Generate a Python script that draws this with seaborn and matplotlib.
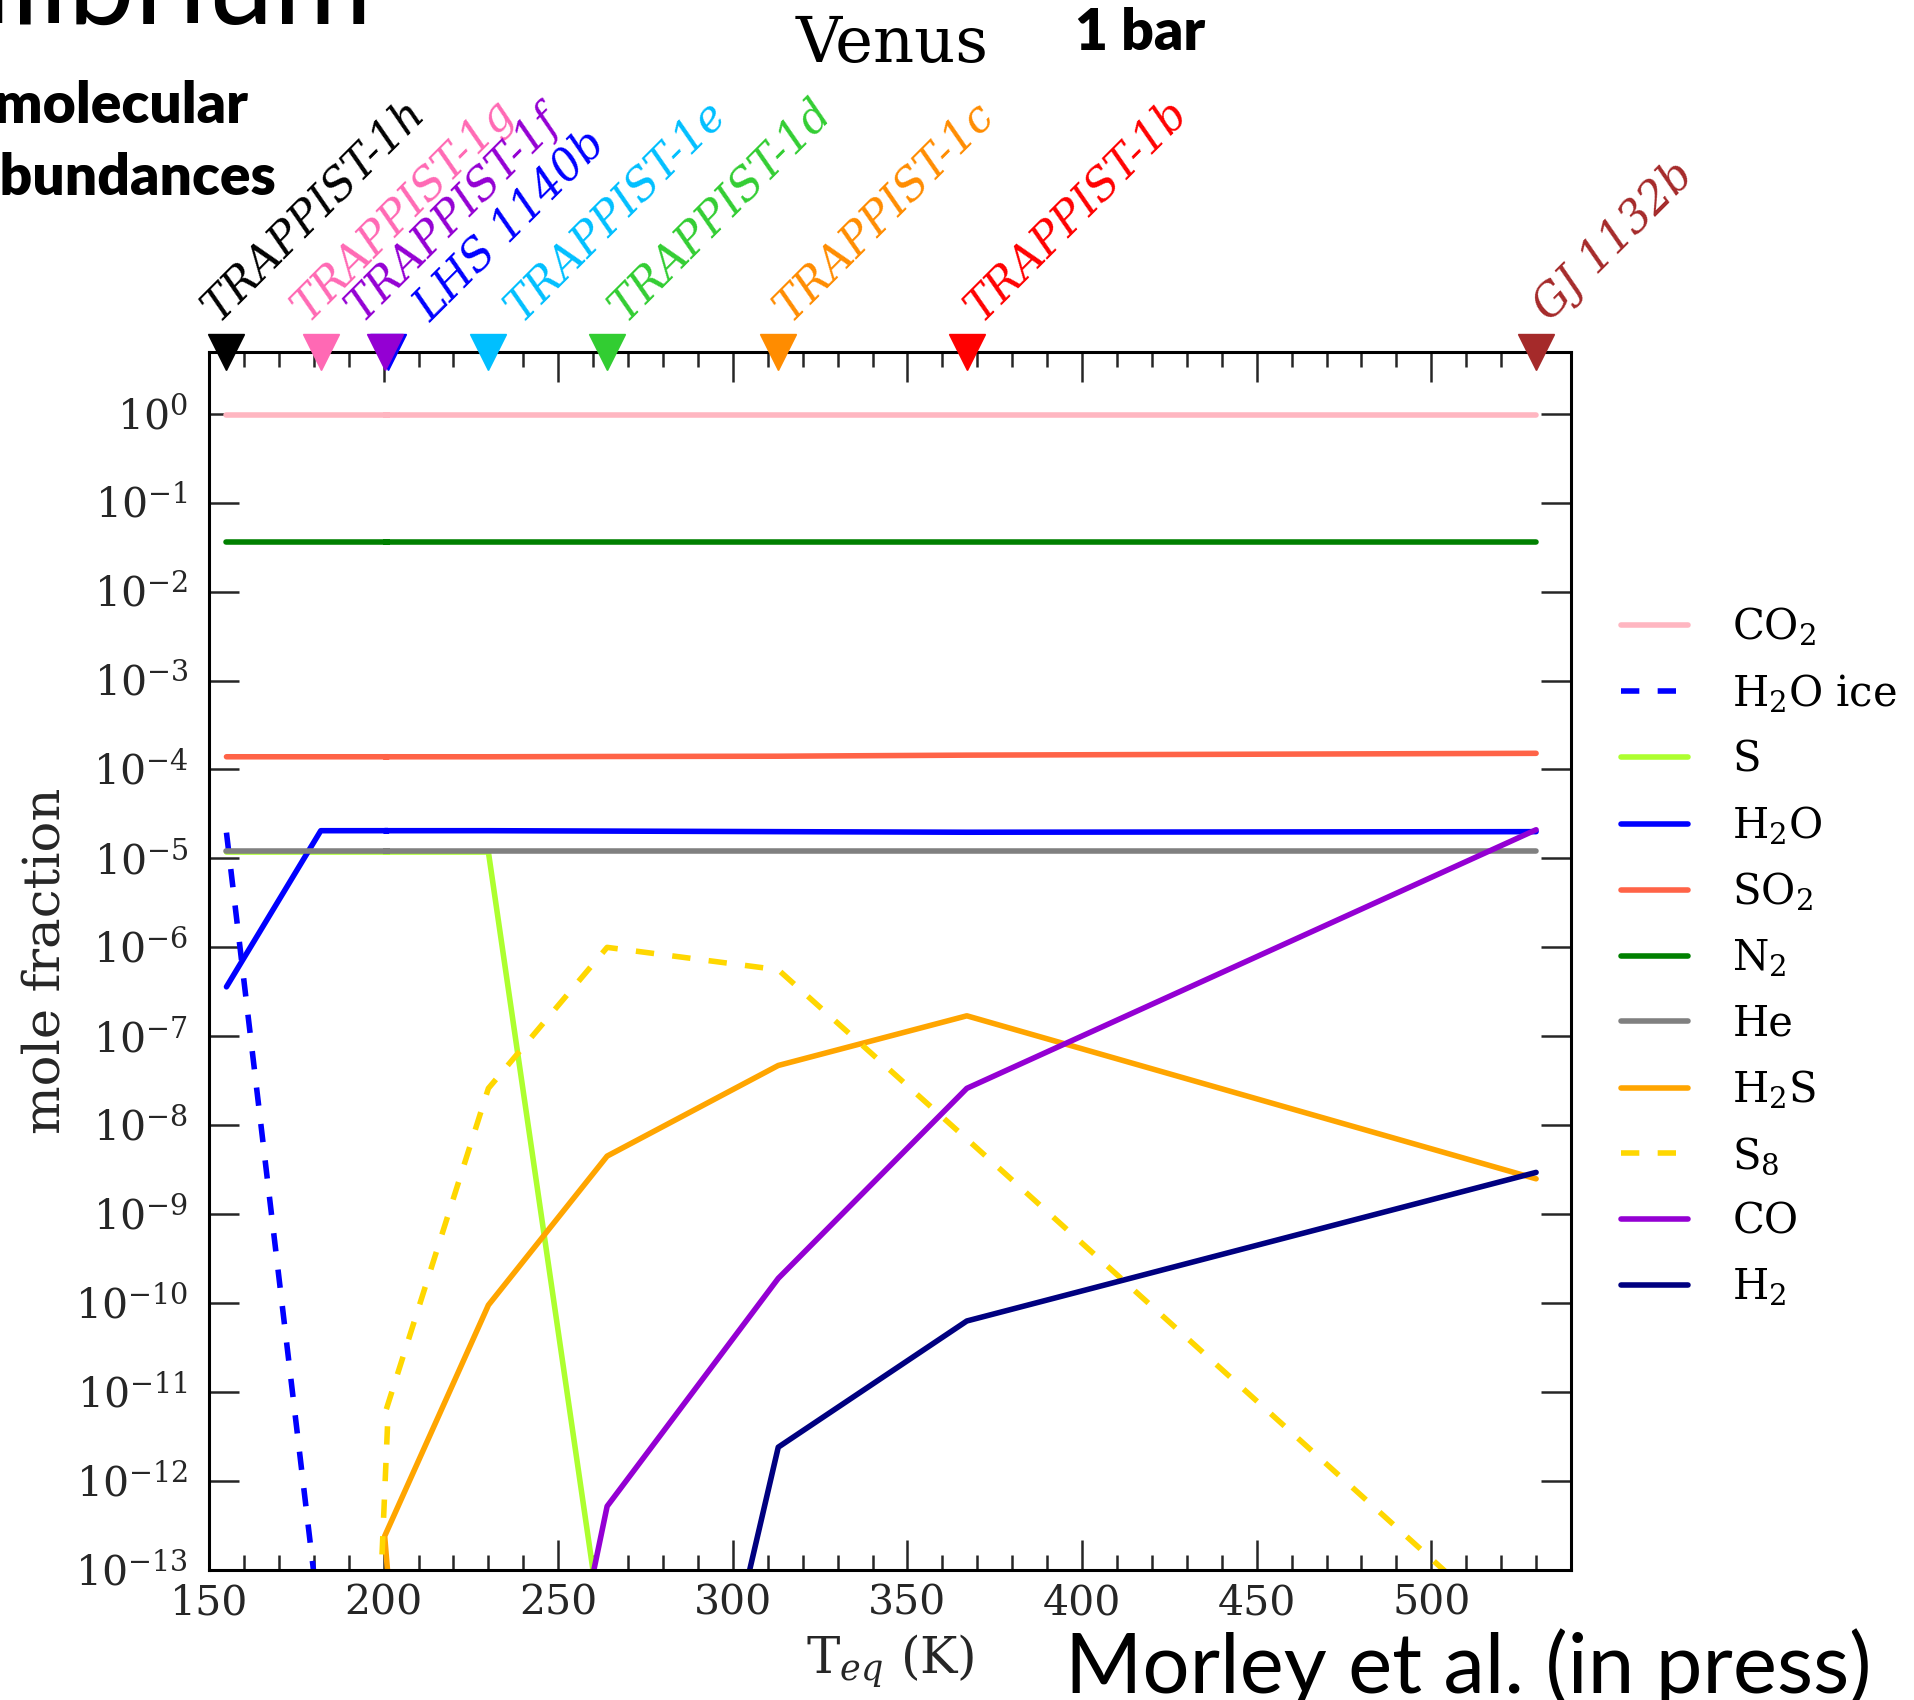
import numpy as np
import pandas as pd
import matplotlib
matplotlib.use("Agg")
import matplotlib.pyplot as plt
import seaborn as sns
from matplotlib.ticker import MultipleLocator, LogLocator, NullLocator, FuncFormatter
from matplotlib.lines import Line2D

# ---------------- data ----------------
# model temperatures (K), in the order the model grid is stored
T_model = [155, 182, 201.2, 200.3, 230, 264, 313, 367, 530]

co2 = [0.96, 0.96, 0.96, 0.96, 0.96, 0.96, 0.96, 0.96, 0.96]
h2o_ice = [1.95e-5, 2.0e-14, 1e-30, 1e-30, 1e-30, 1e-30, 1e-30, 1e-30, 1e-30]
s_atom = [1.18e-5, 1.18e-5, 1.18e-5, 1.18e-5, 1.18e-5, 8e-15, 1e-30, 1e-30, 1e-30]
h2o = [3.6e-7, 2.05e-5, 2.05e-5, 2.05e-5, 2.05e-5, 2.03e-5, 2.0e-5, 1.97e-5, 2.0e-5]
so2 = [1.39e-4, 1.39e-4, 1.39e-4, 1.39e-4, 1.39e-4, 1.40e-4, 1.41e-4, 1.45e-4, 1.52e-4]
n2 = [0.036, 0.036, 0.036, 0.036, 0.036, 0.036, 0.036, 0.036, 0.036]
he = [1.22e-5, 1.22e-5, 1.22e-5, 1.22e-5, 1.22e-5, 1.22e-5, 1.22e-5, 1.22e-5, 1.22e-5]
h2s = [1e-30, 1e-30, 9e-14, 2.4e-13, 9.5e-11, 4.5e-9, 4.7e-8, 1.7e-7, 2.5e-9]
s8 = [1e-30, 1e-29, 5.0e-12, 5.6e-12, 2.6e-8, 1.0e-6, 5.6e-7, 7.0e-9, 1.15e-14]
co = [1e-30, 1e-30, 1e-30, 1e-30, 2e-19, 5.2e-13, 1.9e-10, 2.6e-8, 2.1e-5]
h2 = [1e-30, 1e-30, 1e-30, 1e-30, 1e-30, 1.3e-20, 2.4e-12, 6.3e-11, 2.95e-9]

species = [r"CO$_2$", r"H$_2$O ice", "S", r"H$_2$O", r"SO$_2$", r"N$_2$",
           "He", r"H$_2$S", r"S$_8$", "CO", r"H$_2$"]
series = [co2, h2o_ice, s_atom, h2o, so2, n2, he, h2s, s8, co, h2]
colors = ["lightpink", "blue", "greenyellow", "blue", "tomato", "green",
          "gray", "orange", "gold", "darkviolet", "navy"]
dashed = [False, True, False, False, False, False, False, False, True, False, False]

planets = ["TRAPPIST-1h", "TRAPPIST-1g", "TRAPPIST-1f", "LHS 1140b", "TRAPPIST-1e",
           "TRAPPIST-1d", "TRAPPIST-1c", "TRAPPIST-1b", "GJ 1132b"]
planet_T = [155, 182, 200.5, 201.2, 230, 264, 313, 367, 530]
planet_colors = ["black", "hotpink", "darkviolet", "blue", "deepskyblue",
                 "limegreen", "darkorange", "red", "brown"]
# drawing order of the markers (LHS 1140b sits behind TRAPPIST-1f)
planet_z = [10, 10, 11, 9, 10, 10, 10, 10, 10]
# label offsets (points) relative to the marker
label_dx = [-6.0, -8.9, -16.1, 30.7, 24.2, 13.4, 9.1, 10.5, 9.8]

# ---------------- style ----------------
LW = 4.0
DASH = (3.3, 3.3)
sns.set_theme(style="ticks")
plt.rcParams.update({
    "font.family": ["DejaVu Serif"],
    "mathtext.fontset": "dejavuserif",
    "xtick.direction": "in",
    "ytick.direction": "in",
    "xtick.top": True,
    "ytick.right": True,
    "axes.linewidth": 2.2,
    "axes.edgecolor": "black",
    "text.color": "black",
})

rows = []
for name, vals in zip(species, series):
    for t, v in zip(T_model, vals):
        rows.append({"T": t, "frac": v, "species": name})
df = pd.DataFrame(rows)

fig = plt.figure(figsize=(19.14, 17.0), dpi=100)
ax = fig.add_axes([0.1092, 0.0765, 0.7116, 0.7167])
ax.set_yscale("log")

palette = dict(zip(species, colors))
dash_map = {n: (DASH if d else "") for n, d in zip(species, dashed)}
sns.lineplot(data=df, x="T", y="frac", hue="species", hue_order=species,
             style="species", style_order=species, palette=palette,
             dashes=dash_map, linewidth=LW, estimator=None, sort=False,
             legend=False, ax=ax)

ax.set_xlim(150, 540)
ax.set_ylim(1e-13, 5)

ax.xaxis.set_major_locator(MultipleLocator(50))
ax.xaxis.set_minor_locator(MultipleLocator(10))
ax.yaxis.set_major_locator(LogLocator(base=10, numticks=30))
ax.yaxis.set_minor_locator(NullLocator())
ax.yaxis.set_major_formatter(FuncFormatter(lambda v, p: r"$10^{%d}$" % int(round(np.log10(v)))))
ax.tick_params(which="major", length=21.6, width=1.8, labelsize=29.5)
ax.tick_params(which="minor", length=10.8, width=1.8)
ax.tick_params(axis="y", pad=15)
ax.tick_params(axis="x", pad=10)

ax.set_xlabel(r"T$_{eq}$ (K)", fontsize=36)
ax.set_ylabel("mole fraction", fontsize=37)
ax.xaxis.set_label_coords(0.5, -0.052)
ax.yaxis.set_label_coords(-0.102, 0.5)

# planet markers and labels along the top axis
xtrans = ax.get_xaxis_transform()
for name, t, c, dx, z in zip(planets, planet_T, planet_colors, label_dx, planet_z):
    ax.plot([t], [1.0], marker="v", color=c, markersize=26, linestyle="none",
            transform=xtrans, clip_on=False, zorder=z)
    ax.annotate(name, xy=(t, 1.0), xycoords=("data", "axes fraction"),
                xytext=(dx, 21), textcoords="offset points", rotation=45,
                rotation_mode="anchor", ha="left", va="baseline", color=c,
                fontsize=31.5, fontstyle="italic", annotation_clip=False)

# legend
handles = []
for c, d in zip(colors, dashed):
    h = Line2D([0], [0], color=c, lw=LW)
    if d:
        h.set_dashes(DASH)
    handles.append(h)
fig.legend(handles, species, loc="upper left", bbox_to_anchor=(0.847, 0.6435),
           bbox_transform=fig.transFigure, frameon=False, fontsize=30,
           handlelength=1.6, handletextpad=1.07, labelspacing=0.57,
           borderpad=0, borderaxespad=0)

# annotations around the figure
fig.text(892 / 1914, 1 - 62 / 1700, "Venus", fontsize=46, ha="center", va="baseline")
fig.text(1075 / 1914, 1 - 50 / 1700, "1 bar", fontsize=41, ha="left", va="baseline",
         family=["Lato", "DejaVu Sans"], fontweight="heavy")
fig.text(372 / 1914, 1 - 24 / 1700, "equilibrium", fontsize=86, ha="right", va="baseline",
         family=["Lato", "DejaVu Sans"])
fig.text(248 / 1914, 1 - 123 / 1700, "molecular", fontsize=41, ha="right", va="baseline",
         family=["Lato", "DejaVu Sans"], fontweight="heavy")
fig.text(276 / 1914, 1 - 195 / 1700, "abundances", fontsize=41, ha="right", va="baseline",
         family=["Lato", "DejaVu Sans"], fontweight="heavy")
fig.text(1065 / 1914, 1 - 1693 / 1700, "Morley et al. (in press)", fontsize=60,
         ha="left", va="baseline", family=["Lato", "DejaVu Sans"])

fig.savefig("out.png", dpi=100)
